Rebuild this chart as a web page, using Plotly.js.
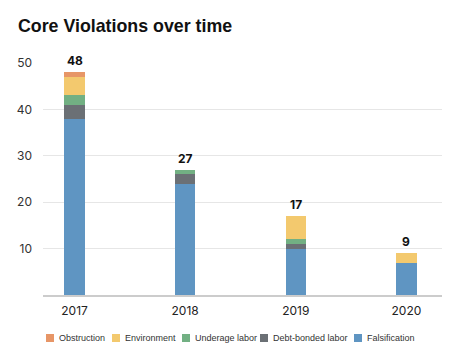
<!DOCTYPE html>
<html><head><meta charset="utf-8">
<script src="https://cdn.plot.ly/plotly-3.0.1.min.js"></script>
<style>html,body{margin:0;padding:0;background:#fff}#chart{width:450px;height:354px}</style>
</head><body><div id="chart"></div>
<script>
var years = ['2017', '2018', '2019', '2020'];
var falsification = [38, 24, 10, 7];
var debtBonded = [3, 2, 1, 0];
var underage = [2, 1, 1, 0];
var environment = [4, 0, 5, 2];
var obstruction = [1, 0, 0, 0];
var seriesNames = ['Falsification', 'Debt-bonded labor', 'Underage labor', 'Environment', 'Obstruction'];
var seriesColors = ['#5f95c2', '#6b7075', '#72b083', '#f3c96e', '#e79667'];
var yTicks = [10, 20, 30, 40, 50];

var seriesValues = [falsification, debtBonded, underage, environment, obstruction];
var totals = years.map(function (_, i) {
  return seriesValues.reduce(function (s, arr) { return s + arr[i]; }, 0);
});

var FONT = 'Inter, "Open Sans", sans-serif';
var FONT2 = '"Liberation Sans", Arial, sans-serif';
var traces = seriesValues.map(function (vals, k) {
  return {
    type: 'bar', x: years, y: vals, name: seriesNames[k],
    marker: {color: seriesColors[k], line: {width: 0}},
    width: 0.184, hoverinfo: 'skip'
  };
});

var W = 450, ML = 43, MR = 8;
var plotW = W - ML - MR;
function px2paper(px) { return (px - ML) / plotW; }

// total labels: category index on the category axis, total on the y axis
var annotations = years.map(function (yr, i) {
  return {
    x: i, y: totals[i], xref: 'x', yref: 'y',
    text: '<b>' + totals[i] + '</b>', showarrow: false,
    yanchor: 'bottom', yshift: 2,
    font: {family: FONT, size: 12, color: '#111'}
  };
});

// custom legend (order: top of stack first)
var legendX = [46, 112, 182, 260, 354];
var shapes = [];
var legendOrder = [4, 3, 2, 1, 0];
legendOrder.forEach(function (k, j) {
  var x0 = legendX[j];
  shapes.push({
    type: 'rect', xref: 'paper', yref: 'paper',
    x0: px2paper(x0), x1: px2paper(x0 + 8),
    y0: -47 / 232, y1: -39 / 232,
    fillcolor: seriesColors[k], line: {width: 0}
  });
  annotations.push({
    xref: 'paper', yref: 'paper', x: px2paper(x0 + 11), y: -43 / 232,
    xanchor: 'left', yanchor: 'middle', showarrow: false,
    text: seriesNames[k], font: {family: FONT2, size: 9, color: '#333'}
  });
});

var layout = {
  width: 450, height: 354,
  margin: {l: ML, r: MR, t: 63, b: 59},
  paper_bgcolor: '#fff', plot_bgcolor: '#fff',
  barmode: 'stack', showlegend: false,
  font: {family: FONT, color: '#222'},
  title: {
    text: '<b>Core Violations over time</b>',
    font: {family: FONT2, size: 17.8, color: '#111'},
    x: 18 / 450, xanchor: 'left', xref: 'container',
    y: 1 - 26 / 354, yanchor: 'middle', yref: 'container'
  },
  xaxis: {
    type: 'category', range: [-0.285, 3.322],
    showgrid: false, showline: true, linecolor: '#cccccc', linewidth: 2,
    ticks: '', ticklabelstandoff: 4,
    tickfont: {family: FONT, size: 12, color: '#222'}, fixedrange: true
  },
  yaxis: {
    range: [0, 50], tickvals: yTicks, ticktext: yTicks.map(String),
    showgrid: true, gridcolor: '#e6e6e6', gridwidth: 1,
    zeroline: false, showline: false, ticks: '',
    ticklabelstandoff: 10,
    tickfont: {family: FONT, size: 12, color: '#333'}, fixedrange: true
  },
  shapes: shapes, annotations: annotations
};

Plotly.newPlot('chart', traces, layout, {displayModeBar: false, staticPlot: true});
</script>
</body></html>
